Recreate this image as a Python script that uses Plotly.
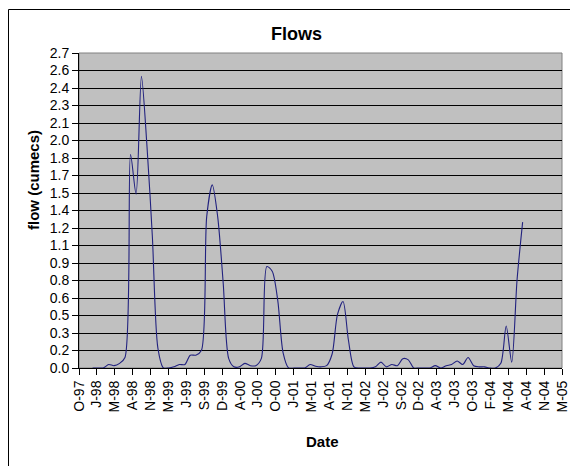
import plotly.graph_objects as go
import pandas as pd

# ---- data (monthly flows, 1st of month) ----
start_month = "1998-01-01"
flow_values = [
    # 1998
    0.00, 0.00, 0.00, 0.03, 0.02, 0.04, 0.09, 1.83, 1.49, 2.50, 1.90, 1.13,
    # 1999
    0.17, 0.00, 0.00, 0.01, 0.03, 0.03, 0.11, 0.11, 0.15, 1.30, 1.57, 1.30,
    # 2000
    0.73, 0.08, 0.01, 0.01, 0.04, 0.02, 0.02, 0.08, 0.87, 0.83, 0.58, 0.13,
    # 2001
    0.00, 0.00, 0.00, 0.00, 0.03, 0.015, 0.01, 0.02, 0.12, 0.46, 0.57, 0.24,
    # 2002
    0.01, 0.00, 0.00, 0.00, 0.01, 0.05, 0.01, 0.03, 0.02, 0.08, 0.07, 0.00,
    # 2003
    0.00, 0.00, 0.00, 0.02, 0.00, 0.02, 0.03, 0.06, 0.03, 0.09, 0.02, 0.01,
    # 2004
    0.01, 0.00, 0.00, 0.04, 0.36, 0.05, 0.76, 1.25,
]
flow_dates = pd.date_range(start_month, periods=len(flow_values), freq="MS")

# x-axis tick labels (Excel date axis, major unit 100 days)
x_tick_labels = ["O-97", "J-98", "M-98", "A-98", "N-98", "M-99", "J-99", "S-99",
                 "D-99", "A-00", "J-00", "O-00", "J-01", "M-01", "A-01", "N-01",
                 "M-02", "J-02", "S-02", "D-02", "A-03", "J-03", "O-03", "F-04",
                 "M-04", "A-04", "N-04", "M-05"]
x_axis_start = "1997-10-17"
x_major_days = 100

# y-axis tick labels (step 0.15, shown with one decimal)
y_tick_labels = ["0.0", "0.2", "0.3", "0.5", "0.6", "0.8", "0.9", "1.1", "1.2", "1.4",
                 "1.5", "1.7", "1.8", "2.0", "2.1", "2.3", "2.4", "2.6", "2.7"]
y_step = 0.15
y_max = 2.7

x_tick_vals = [pd.Timestamp(x_axis_start) + pd.Timedelta(days=x_major_days * i)
               for i in range(len(x_tick_labels))]
y_tick_vals = [round(i * y_step, 4) for i in range(len(y_tick_labels))]

FONT = "Arial, 'Liberation Sans', sans-serif"

fig = go.Figure()
fig.add_trace(go.Scatter(
    x=flow_dates, y=flow_values, mode="lines",
    line=dict(color="#22227f", width=1.1, shape="spline", smoothing=0.8),
    showlegend=False, hoverinfo="x+y",
))

W, H = 570, 466
L, R, T, B = 79, 8, 53, 98
pw, ph = W - L - R, H - T - B

def px_x(p):
    return (p - L) / pw

def px_y(p):
    return (H - B - p) / ph

fig.update_layout(
    template="none",
    width=W, height=H,
    margin=dict(l=L, r=R, t=T, b=B, pad=0),
    paper_bgcolor="white",
    plot_bgcolor="#C0C0C0",
    font=dict(family=FONT, size=14, color="black"),
    showlegend=False,
)

fig.update_xaxes(
    type="date",
    range=[x_tick_vals[0], x_tick_vals[-1]],
    tickvals=x_tick_vals, ticktext=x_tick_labels,
    tickangle=-90,
    ticks="outside", ticklen=6, tickcolor="black", tickwidth=1,
    tickfont=dict(family=FONT, size=14, color="black"),
    showgrid=False, zeroline=False,
    showline=True, linecolor="black", linewidth=1,
    automargin=False,
)
fig.update_yaxes(
    range=[0, y_max],
    tickvals=y_tick_vals, ticktext=y_tick_labels,
    ticks="outside", ticklen=6, tickcolor="black", tickwidth=1,
    tickfont=dict(family=FONT, size=14, color="black"),
    showgrid=True, gridcolor="black", gridwidth=1,
    zeroline=False,
    showline=True, linecolor="black", linewidth=1,
    automargin=False,
)

# plot-area border (gray) and outer chart border (black)
fig.add_shape(type="rect", xref="paper", yref="paper", x0=0, y0=0, x1=1, y1=1,
              line=dict(color="#808080", width=1), layer="between")
fig.add_shape(type="rect", xref="paper", yref="paper",
              x0=px_x(8.5), y0=px_y(490), x1=px_x(600), y1=px_y(9.5),
              line=dict(color="black", width=1), layer="below")

# title and axis titles
fig.add_annotation(text="<b>Flows</b>", xref="paper", yref="paper",
                   x=px_x(296), y=px_y(34), showarrow=False,
                   font=dict(family=FONT, size=18, color="black"),
                   xanchor="center", yanchor="middle")
fig.add_annotation(text="<b>flow (cumecs)</b>", xref="paper", yref="paper",
                   x=px_x(33), y=px_y(180), showarrow=False, textangle=-90,
                   font=dict(family=FONT, size=15, color="black"),
                   xanchor="center", yanchor="middle")
fig.add_annotation(text="<b>Date</b>", xref="paper", yref="paper",
                   x=px_x(322), y=px_y(441), showarrow=False,
                   font=dict(family=FONT, size=15, color="black"),
                   xanchor="center", yanchor="middle")

fig.write_html("out.html")
